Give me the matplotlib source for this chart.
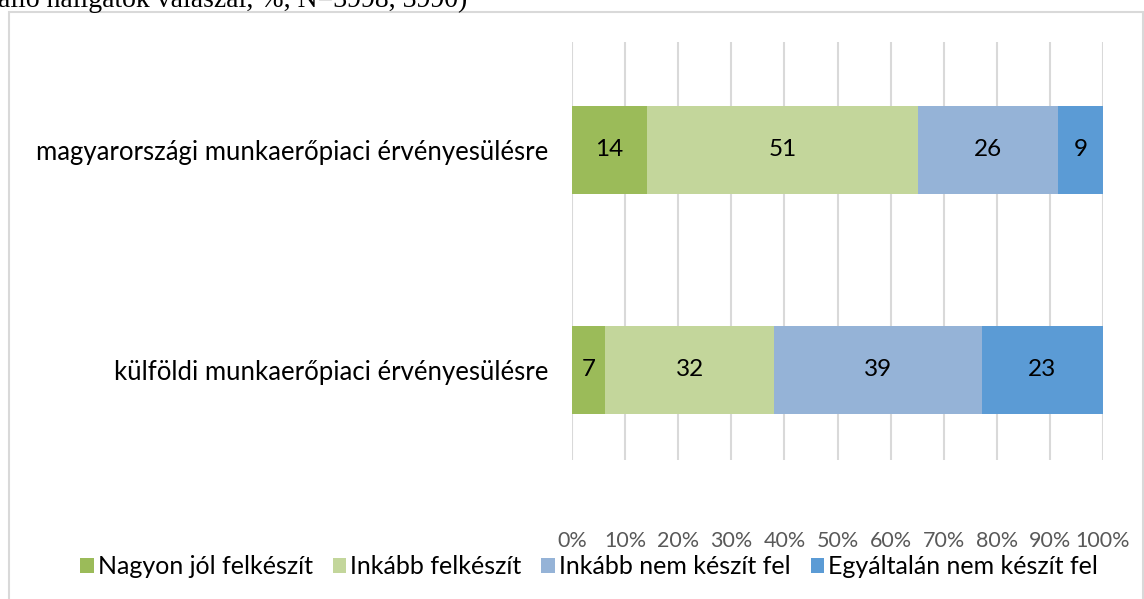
import matplotlib.pyplot as plt
import numpy as np
from matplotlib.patches import Rectangle

categories = ["külföldi munkaerőpiaci érvényesülésre",
              "magyarországi munkaerőpiaci érvényesülésre"]
series = ["Nagyon jól felkészít", "Inkább felkészít",
          "Inkább nem készít fel", "Egyáltalán nem készít fel"]
# bar widths (share in %)
values = {
    "Nagyon jól felkészít": [6.3, 14.1],
    "Inkább felkészít": [31.7, 51.1],
    "Inkább nem készít fel": [39.2, 26.3],
    "Egyáltalán nem készít fel": [22.8, 8.5],
}
# numbers printed on the segments
labels = {
    "Nagyon jól felkészít": [7, 14],
    "Inkább felkészít": [32, 51],
    "Inkább nem készít fel": [39, 26],
    "Egyáltalán nem készít fel": [23, 9],
}
colors = ["#9BBB59", "#C3D69B", "#95B3D7", "#5B9BD5"]
ticks = np.arange(0, 101, 10)

plt.rcParams['font.family'] = ['Lato', 'DejaVu Sans']

fig = plt.figure(figsize=(11.44, 5.99), dpi=100)
W, H = 1144, 599

# chart frame
fig.patches.append(Rectangle((9 / W, -0.01), (1143 - 9) / W, 1 - 12 / H + 0.01,
                             transform=fig.transFigure, fill=False,
                             edgecolor="#D9D9D9", linewidth=1.5))
# cut-off caption line from the document above
fig.text(-2 / W, 1 - 7 / H, "álló hallgatók válaszai, %, N=3998, 3990)",
         family="Liberation Serif", fontsize=20, va="baseline", ha="left")

ax = fig.add_axes([572 / W, 1 - 460 / H, (1103 - 572) / W, (460 - 42) / H])
y = np.arange(len(categories))
left = np.zeros(len(categories))
for name, col in zip(series, colors):
    v = np.array(values[name])
    bars = ax.barh(y, v, left=left, height=0.4, color=col, label=name, zorder=2)
    ax.bar_label(bars, labels=[str(l) for l in labels[name]],
                 label_type="center", fontsize=17.5, color="black")
    left += v

ax.set_xlim(0, 100)
ax.set_ylim(-0.41, 1.49)
ax.set_xticks(ticks)
ax.set_xticklabels([f"{t}%" for t in ticks], fontsize=15.5, color="#595959")
ax.set_yticks(y)
ax.set_yticklabels(categories, fontsize=18.5)
ax.tick_params(axis="x", length=0, pad=51)
ax.tick_params(axis="y", length=0, pad=17)
ax.grid(axis="x", color="#D9D9D9", linewidth=1.5, zorder=0)
for s in ax.spines.values():
    s.set_visible(False)

leg = fig.legend(loc="center", bbox_to_anchor=(589 / W, 1 - 567 / H), ncol=4,
                 frameon=False, fontsize=18, handlelength=0.55, handleheight=0.55,
                 handletextpad=0.15, columnspacing=0.8)

fig.savefig("out.png", dpi=100)
